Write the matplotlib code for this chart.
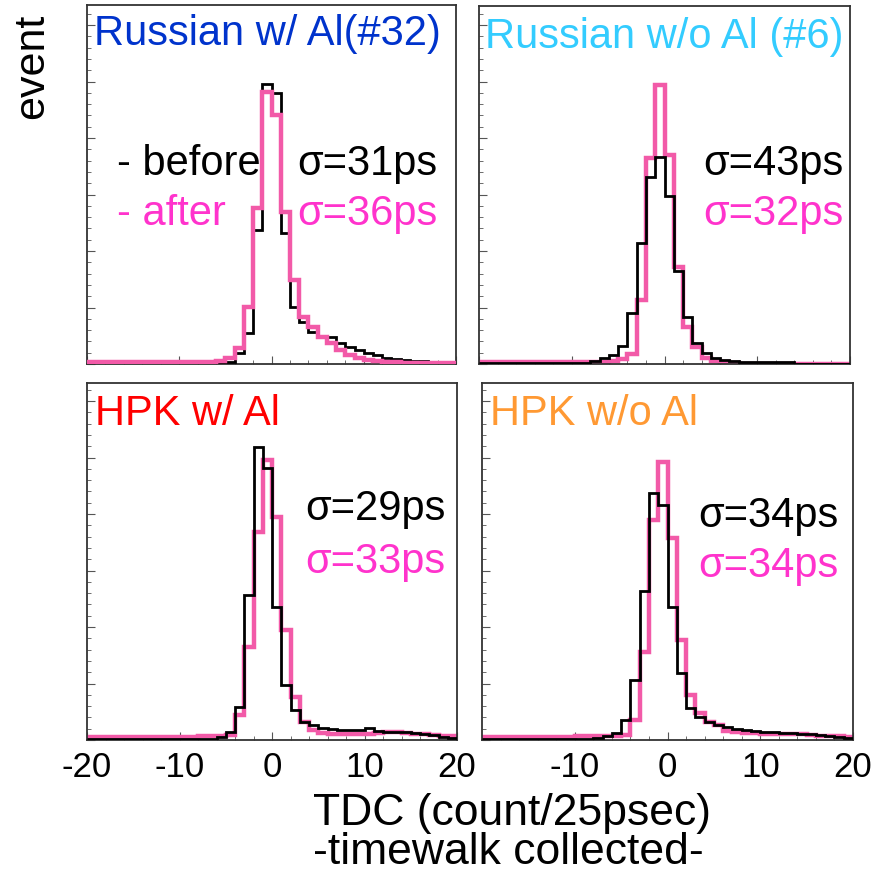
import numpy as np
import matplotlib
matplotlib.use('Agg')
import matplotlib.pyplot as plt
from matplotlib.ticker import MultipleLocator, AutoMinorLocator

# 直方图区间：-20 到 20，每格 1 个 TDC 计数
edges = np.arange(-20, 21, 1)

# 每个面板的计数 (任意单位)，区间从 [-20,-19] 到 [19,20]
tl_before = [1]*15 + [2, 11, 31, 134, 280, 271, 131, 57, 42, 32, 27, 27, 21, 17, 14,
                     11, 9, 6, 5, 4, 3, 3, 2, 2, 1]
tl_after = [2]*13 + [2, 3, 6, 16, 57, 156, 272, 249, 152, 84, 47, 37, 27, 21, 14, 9, 6,
                     4, 3, 2, 2, 1, 1, 1, 1, 1, 1]

tr_before = [1]*12 + [3, 6, 9, 18, 51, 121, 187, 207, 168, 93, 47, 21, 11, 6, 4, 3,
                      2, 2, 2, 2, 2, 2, 0, 0, 0, 0, 0, 0]
tr_after = [2]*14 + [3, 5, 10, 64, 206, 279, 209, 97, 37, 17, 6, 3, 2, 1,
                     0, 0, 0, 0, 0, 0, 0, 0, 0, 0, 0, 0]

bl_before = [1]*14 + [3, 8, 33, 145, 293, 272, 133, 55, 30, 18, 15, 12, 11, 10, 10, 10,
                      12, 9, 8, 8, 8, 7, 6, 5, 3, 2]
bl_after = [3]*12 + [4, 4, 4, 5, 25, 93, 208, 280, 223, 110, 43, 18, 10, 7, 6, 6, 6, 6,
                     6, 7, 8, 8, 7, 6, 6, 5, 4, 4]

br_before = [1]*12 + [2, 4, 7, 20, 60, 149, 247, 235, 133, 67, 32, 23, 18, 15, 13, 11,
                      10, 9, 8, 8, 7, 7, 6, 6, 5, 4, 3, 2]
br_after = [3]*10 + [4, 4, 4, 4, 4, 5, 20, 88, 220, 278, 202, 100, 45, 27, 18, 15, 9, 8,
                     7, 7, 6, 6, 6, 6, 6, 5, 4, 4, 4, 3]

titles = ['Russian w/ Al(#32)', 'Russian w/o Al (#6)', 'HPK w/ Al', 'HPK w/o Al']
title_colors = ['#0033cc', '#33ccff', '#ff0000', '#ff9933']
sigma_before = ['σ=31ps', 'σ=43ps', 'σ=29ps', 'σ=34ps']
sigma_after = ['σ=36ps', 'σ=32ps', 'σ=33ps', 'σ=34ps']

W, H = 888, 873
fig = plt.figure(figsize=(W/100, H/100), dpi=100)
plt.rcParams['font.family'] = ['Liberation Sans', 'DejaVu Sans']

# 面板位置 (像素): 左, 上, 右, 下
boxes = [(87, 5, 456, 364), (479, 6, 850, 364), (87, 383, 457, 740), (482, 383, 853, 740)]
data = [(tl_before, tl_after), (tr_before, tr_after),
        (bl_before, bl_after), (br_before, br_after)]
pink_top = [True, False, False, False]

black = '#000000'
pink_line = '#f25aa8'
pink_text = '#ff33cc'

axes = []
for k, (box, (before, after)) in enumerate(zip(boxes, data)):
    l, t, r, b = box
    ax = fig.add_axes([l/W, 1 - b/H, (r - l)/W, (b - t)/H])
    ax.stairs(before, edges, color=black, lw=2.0, baseline=None, zorder=3)
    ax.stairs(after, edges, color=pink_line, lw=3.2, baseline=None,
              zorder=4 if pink_top[k] else 2)
    ax.set_xlim(-20, 20)
    ax.set_ylim(0, b - t)
    ax.xaxis.set_major_locator(MultipleLocator(10))
    ax.xaxis.set_minor_locator(MultipleLocator(2))
    ax.yaxis.set_major_locator(MultipleLocator(56.5))
    ax.yaxis.set_minor_locator(AutoMinorLocator(5))
    ax.tick_params(which='both', direction='in', colors='#555555', top=False, right=False)
    ax.tick_params(which='major', length=6, width=0.8)
    ax.tick_params(which='minor', length=3, width=0.6)
    ax.set_yticklabels([])
    for s in ax.spines.values():
        s.set_color('#333333')
        s.set_linewidth(1.3)
    if k < 2:
        ax.set_xticklabels([])
    else:
        ax.tick_params(axis='x', labelcolor='black', pad=8)
        ticks = [-20, -10, 0, 10, 20] if k == 2 else [-10, 0, 10, 20]
        ax.set_xticks(ticks)
        ax.set_xticklabels([str(v) for v in ticks], fontsize=25)
    axes.append(ax)


def ftext(x, y, s, **kw):
    fig.text(x/W, 1 - y/H, s, va='baseline', **kw)


# 面板标题
title_pos = [(94, 45), (485, 48), (95, 425), (490, 425)]
for (x, y), s, c in zip(title_pos, titles, title_colors):
    ftext(x, y, s, color=c, fontsize=30)

# sigma 标注
sig_pos = [(297, 175, 225), (703, 175, 225), (305, 520, 573), (698, 527, 577)]
for (x, y1, y2), s1, s2 in zip(sig_pos, sigma_before, sigma_after):
    ftext(x, y1, s1, color=black, fontsize=30)
    ftext(x, y2, s2, color=pink_text, fontsize=30)

# 图例文字
ftext(117, 175, '- before', color=black, fontsize=30)
ftext(117, 225, '- after', color=pink_text, fontsize=30)

# 坐标轴标题
fig.text(32/W, 1 - 66/H, 'event', rotation=90, ha='center', va='center', fontsize=31)
ftext(512, 825, 'TDC (count/25psec)', ha='center', fontsize=32)
ftext(508, 864, '-timewalk collected-', ha='center', fontsize=32)

fig.savefig('out.png', dpi=100)
